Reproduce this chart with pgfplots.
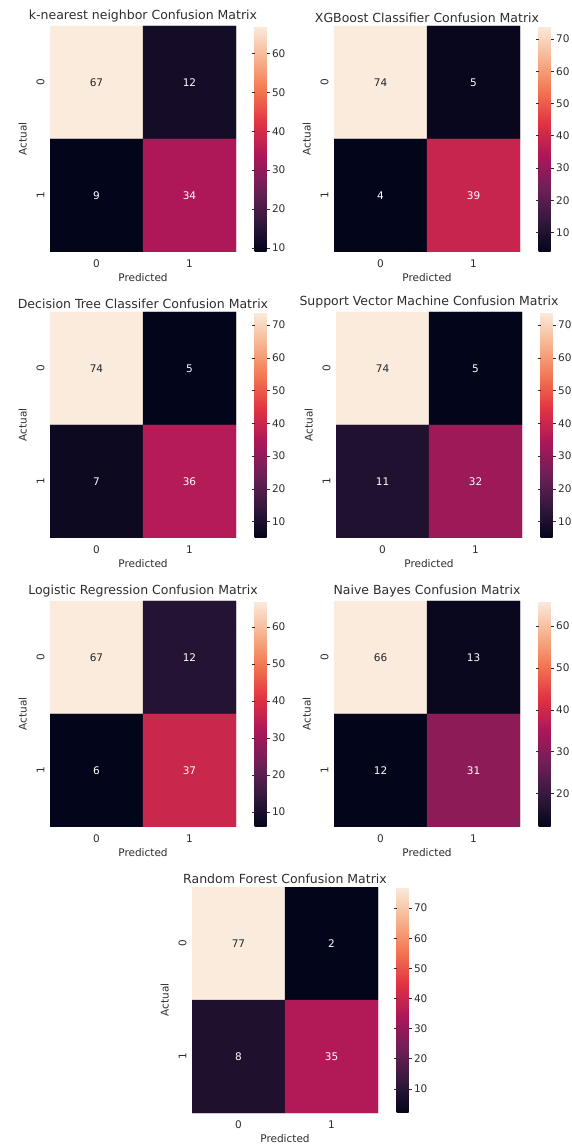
\documentclass[border=0pt]{standalone}
\usepackage{pgfplots}
\pgfplotsset{compat=1.18}
\usepackage{pgfplotstable}
\usepackage{fontspec}
\setmainfont{DejaVu Sans}
\definecolor{lbl}{RGB}{45,45,45}
\definecolor{dtext}{RGB}{38,38,38}
\pgfkeys{/pgf/number format/assume math mode=true}
\pgfplotsset{
  colormap={rocket}{rgb255=(3,5,26) rgb255=(53,25,62) rgb255=(112,31,87) rgb255=(173,23,89) rgb255=(225,51,66) rgb255=(243,118,81) rgb255=(246,180,143) rgb255=(250,235,221)},
  cm/.style={
    scale only axis, width=186pt, height=226pt, anchor=south west,
    xmin=-0.5, xmax=1.5, ymin=-0.5, ymax=1.5, y dir=reverse,
    xtick={0,1}, ytick={0,1},
    xlabel={Predicted}, ylabel={Actual},
    xlabel style={font=\fontsize{10.5}{12}\selectfont, text=lbl, yshift=1pt},
    ylabel style={font=\fontsize{10.5}{12}\selectfont, text=lbl, yshift=3pt},
    ticklabel style={font=\fontsize{10.5}{12}\selectfont, text=lbl},
    xticklabel style={yshift=-4pt},
    yticklabel style={xshift=-2pt, rotate=90, anchor=south},
    title style={font=\fontsize{12.5}{14}\selectfont, text=lbl, yshift=-6pt},
    axis line style={draw=none}, major tick length=0pt,
    colormap name=rocket,
    colorbar,
    colorbar style={
      at={(parent axis.north east)}, anchor=north west, xshift=10pt,
      width=12pt, ytick={10,20,...,70},
      axis line style={draw=none},
      tick align=outside, major tick length=3pt,
      tick style={draw=lbl, line width=0.6pt},
      yticklabel style={font=\fontsize{10.5}{12}\selectfont, text=lbl, xshift=-1pt},
    },
  },
  hm/.style={matrix plot*, mesh/cols=2, point meta=explicit},
  txt/.style={only marks, mark=*, mark size=0pt, mark options={draw=none, fill=none},
    point meta=explicit,
    visualization depends on={\thisrow{d} \as \dk},
    nodes near coords={\ifdim\dk pt>0.5pt \color{dtext}\else\color{white}\fi\pgfmathprintnumber{\pgfplotspointmeta}},
    every node near coord/.append style={anchor=center, font=\fontsize{10.5}{12}\selectfont}},
}
\pgfplotstableread{
x y c d
0 0 67 1
1 0 12 0
0 1 9 0
1 1 34 0
}\knn
\pgfplotstableread{
x y c d
0 0 74 1
1 0 5 0
0 1 4 0
1 1 39 0
}\xgb
\pgfplotstableread{
x y c d
0 0 74 1
1 0 5 0
0 1 7 0
1 1 36 0
}\dtc
\pgfplotstableread{
x y c d
0 0 74 1
1 0 5 0
0 1 11 0
1 1 32 0
}\svm
\pgfplotstableread{
x y c d
0 0 67 1
1 0 12 0
0 1 6 0
1 1 37 0
}\lr
\pgfplotstableread{
x y c d
0 0 66 1
1 0 13 0
0 1 12 0
1 1 31 0
}\nb
\pgfplotstableread{
x y c d
0 0 77 1
1 0 2 0
0 1 8 0
1 1 35 0
}\rf
\begin{document}
\begin{tikzpicture}
\path[use as bounding box] (0,0) rectangle (571pt,1146pt);
\begin{axis}[cm, at={(50pt,894pt)}, title={k-nearest neighbor Confusion Matrix}]
\addplot[hm] table[meta=c] {\knn};
\addplot[txt] table[meta=c] {\knn};
\end{axis}
\begin{axis}[cm, at={(334pt,894pt)}, title={XGBoost Classifier Confusion Matrix}]
\addplot[hm] table[meta=c] {\xgb};
\addplot[txt] table[meta=c] {\xgb};
\end{axis}
\begin{axis}[cm, at={(50pt,608pt)}, title={Decision Tree Classifer Confusion Matrix}]
\addplot[hm] table[meta=c] {\dtc};
\addplot[txt] table[meta=c] {\dtc};
\end{axis}
\begin{axis}[cm, at={(336pt,608pt)}, title={Support Vector Machine Confusion Matrix}]
\addplot[hm] table[meta=c] {\svm};
\addplot[txt] table[meta=c] {\svm};
\end{axis}
\begin{axis}[cm, at={(50pt,319pt)}, title={Logistic Regression Confusion Matrix}]
\addplot[hm] table[meta=c] {\lr};
\addplot[txt] table[meta=c] {\lr};
\end{axis}
\begin{axis}[cm, at={(334pt,319pt)}, title={Naive Bayes Confusion Matrix}]
\addplot[hm] table[meta=c] {\nb};
\addplot[txt] table[meta=c] {\nb};
\end{axis}
\begin{axis}[cm, at={(192pt,33pt)}, title={Random Forest Confusion Matrix}]
\addplot[hm] table[meta=c] {\rf};
\addplot[txt] table[meta=c] {\rf};
\end{axis}
\end{tikzpicture}
\end{document}
